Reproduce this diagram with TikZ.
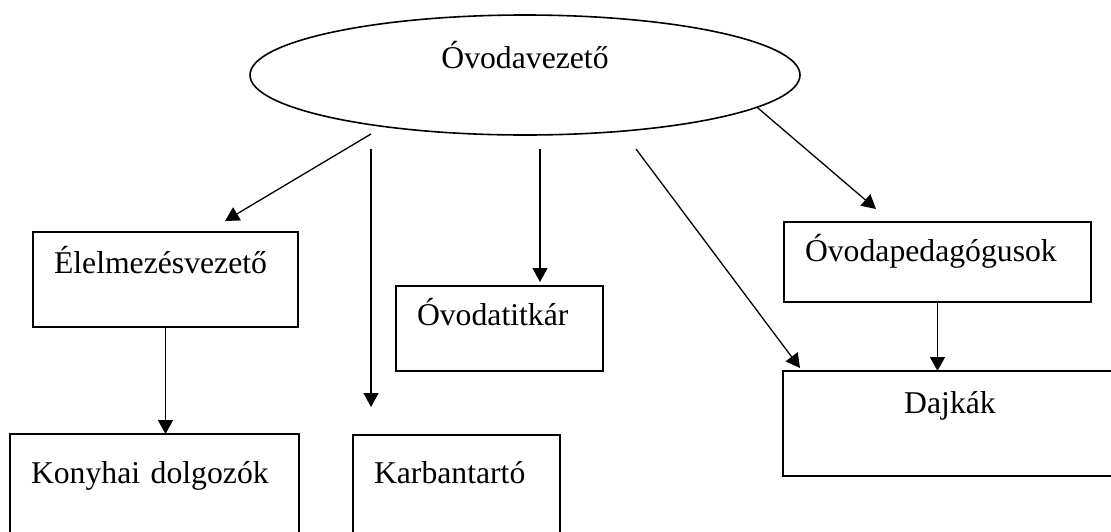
\documentclass[tikz,border=0pt]{standalone}
\usepackage{fontspec}
\setmainfont{Liberation Serif}
\usetikzlibrary{arrows.meta,positioning,shapes.geometric}
\tikzset{
  boss/.style={draw,ellipse,line width=1.6pt,inner sep=0pt,minimum width=550pt,minimum height=120pt,text height=22pt,text depth=36pt},
  box/.style={draw,rectangle,line width=1.5pt,anchor=north west,outer sep=0pt,inner xsep=21pt,inner ysep=0pt,align=left},
  arr/.style={-{Triangle[length=14pt,width=15pt]},line width=1.3pt},
}
\begin{document}
\begin{tikzpicture}[x=1pt,y=-1pt,font=\fontsize{31.7}{38}\selectfont]
  \useasboundingbox (0,0) rectangle (1111,531);
  \clip (0,0) rectangle (1111,531);
  \node[boss] (vez) at (525,75) {Óvodavezető};
  \node[box,text width=223pt,text height=41pt,text depth=54pt] (elm) at (33,232) {Élelmezésvezető};
  \node[box,text width=247pt,text height=49pt,text depth=77pt] (kony) at (10,434) {Konyhai~dolgozók};
  \node[box,text width=165pt,text height=48pt,text depth=77pt] (karb) at (353,435) {Karbantartó};
  \node[box,text width=165pt,text height=39pt,text depth=46pt] (titk) at (396,286) {Óvodatitkár};
  \node[box,text width=265pt,text height=39pt,text depth=41pt] (ped) at (784,222) {Óvodapedagógusok};
  \node[box,align=center,text width=292pt,text height=42pt,text depth=63pt] (daj) at (783,371) {Dajkák};
  \coordinate (e1) at (371,134);
  \coordinate (e2) at (225,221);
  \coordinate (k1) at (371,149);
  \coordinate (k2) at (371,407);
  \coordinate (t1) at (540,149);
  \coordinate (t2) at (540,282);
  \coordinate (d1) at (636,149);
  \coordinate (d2) at (800,368);
  \coordinate (p2) at (876,209);
  \draw[arr] (e1) -- (e2);
  \draw[arr] (k1) -- (k2);
  \draw[arr] (t1) -- (t2);
  \draw[arr] (d1) -- (d2);
  \draw[arr] (vez.-8) -- (p2);
  \draw[arr] (elm.south) -- (elm.south |- kony.north);
  \draw[arr] (ped.south) -- (ped.south |- daj.north);
\end{tikzpicture}
\end{document}
